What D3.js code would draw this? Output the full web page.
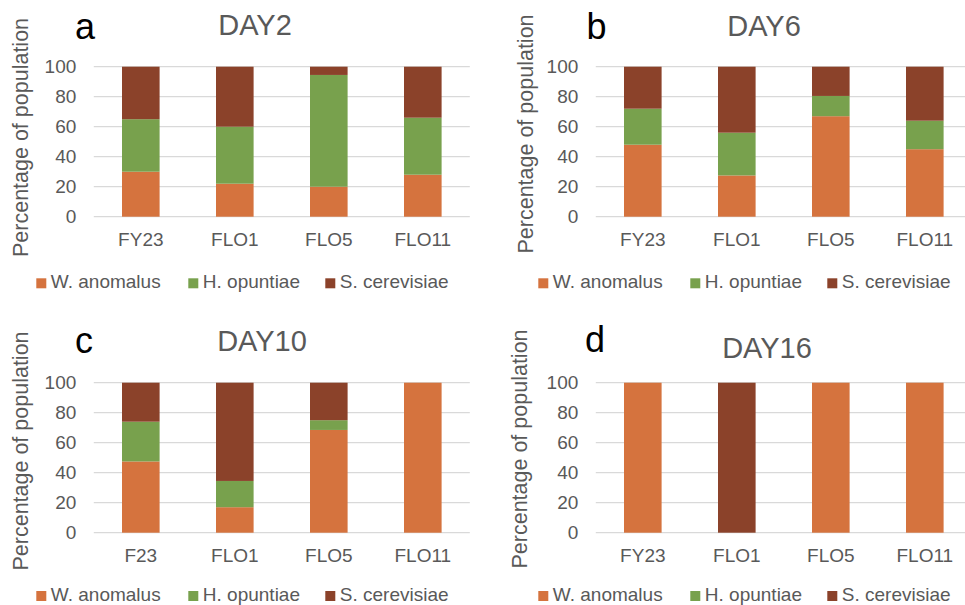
<!DOCTYPE html>
<html>
<head>
<meta charset="utf-8">
<script src="https://cdn.jsdelivr.net/npm/d3@7"></script>
<style>
  html, body { margin: 0; padding: 0; background: #fff; }
  svg { display: block; font-family: "Liberation Sans", Arial, sans-serif; }
</style>
</head>
<body>
<script>
// values (percentage of population)
const strains = ['FY23', 'FLO1', 'FLO5', 'FLO11'];
const strainsDay10 = ['F23', 'FLO1', 'FLO5', 'FLO11'];
const species = ['W. anomalus', 'H. opuntiae', 'S. cerevisiae'];
const yTicks = [0, 20, 40, 60, 80, 100];

const day2W = [30, 22, 20, 28];
const day2H = [35, 38, 74.5, 38];
const day2S = [35, 40, 5.5, 34];

const day6W = [48, 27.5, 67, 45];
const day6H = [24, 28.5, 13.5, 19];
const day6S = [28, 44, 19.5, 36];

const day10W = [47.5, 17, 68.5, 100];
const day10H = [26.5, 17.5, 6.5, 0];
const day10S = [26, 65.5, 25, 0];

const day16W = [100, 0, 100, 100];
const day16H = [0, 0, 0, 0];
const day16S = [0, 100, 0, 0];

const colors = ['#D5733E', '#78A14D', '#8B422A'];
const textGrey = '#595959';

const panels = [
	{ letter: 'a', title: 'DAY2', cats: strains, vals: [day2W, day2H, day2S],
	  left: 93.8, top: 66.7, legY: 288.3, letterX: 75, letterY: 39.3, titleX: 255, titleY: 35, axisX: 27.5, axisY: 137.5 },
	{ letter: 'b', title: 'DAY6', cats: strains, vals: [day6W, day6H, day6S],
	  left: 595.8, top: 66.7, legY: 288.3, letterX: 586.5, letterY: 39.3, titleX: 764, titleY: 36, axisX: 532.5, axisY: 134 },
	{ letter: 'c', title: 'DAY10', cats: strainsDay10, vals: [day10W, day10H, day10S],
	  left: 93.8, top: 382.7, legY: 601, letterX: 75, letterY: 352.7, titleX: 262, titleY: 351, axisX: 27.5, axisY: 451 },
	{ letter: 'd', title: 'DAY16', cats: strains, vals: [day16W, day16H, day16S],
	  left: 595.8, top: 382.7, legY: 601, letterX: 585, letterY: 351.7, titleX: 767, titleY: 358.3, axisX: 527, axisY: 449 }
];

const plotW = 376, plotH = 150;

const svg = d3.select('body').append('svg')
	.attr('width', 965)
	.attr('height', 605);

panels.forEach(function(p) {
	const rows = p.cats.map(function(c, i) {
		const r = { cat: c };
		species.forEach(function(s, k) { r[s] = p.vals[k][i]; });
		return r;
	});

	const x = d3.scaleBand()
		.domain(p.cats)
		.range([p.left, p.left + plotW])
		.paddingInner(0.6)
		.paddingOuter(0.3);

	const y = d3.scaleLinear()
		.domain([0, 100])
		.range([p.top + plotH, p.top]);

	const g = svg.append('g');

	// gridlines
	g.selectAll('line.grid')
		.data(yTicks)
		.enter()
		.append('line')
		.attr('x1', p.left)
		.attr('x2', p.left + plotW)
		.attr('y1', function(d) { return y(d); })
		.attr('y2', function(d) { return y(d); })
		.attr('stroke', '#D9D9D9')
		.attr('stroke-width', 1.3);

	// stacked bars
	const stacked = d3.stack().keys(species)(rows);
	g.selectAll('g.layer')
		.data(stacked)
		.enter()
		.append('g')
		.attr('fill', function(d, i) { return colors[i]; })
		.selectAll('rect')
		.data(function(d) { return d; })
		.enter()
		.append('rect')
		.attr('x', function(d) { return x(d.data.cat); })
		.attr('width', x.bandwidth())
		.attr('y', function(d) { return y(d[1]); })
		.attr('height', function(d) { return y(d[0]) - y(d[1]); });

	// y axis labels
	const yAxis = g.append('g')
		.attr('transform', 'translate(' + (p.left - 17.5) + ',0)')
		.call(d3.axisLeft(y).tickValues(yTicks).tickSize(0).tickPadding(0));
	yAxis.select('.domain').remove();
	yAxis.selectAll('text')
		.attr('fill', textGrey)
		.style('font-size', '19px')
		.style('font-family', '"Liberation Sans", Arial, sans-serif');

	// x axis labels
	const xAxis = g.append('g')
		.attr('transform', 'translate(0,' + (p.top + plotH + 15.5) + ')')
		.call(d3.axisBottom(x).tickSize(0).tickPadding(0));
	xAxis.select('.domain').remove();
	xAxis.selectAll('text')
		.attr('fill', textGrey)
		.style('font-size', '19px')
		.style('font-family', '"Liberation Sans", Arial, sans-serif');

	// axis title
	g.append('text')
		.attr('transform', 'translate(' + p.axisX + ',' + p.axisY + ') rotate(-90)')
		.attr('text-anchor', 'middle')
		.attr('fill', textGrey)
		.style('font-size', '21.5px')
		.text('Percentage of population');

	// panel title and letter
	g.append('text')
		.attr('x', p.titleX)
		.attr('y', p.titleY)
		.attr('text-anchor', 'middle')
		.attr('fill', textGrey)
		.style('font-size', '29px')
		.text(p.title);

	g.append('text')
		.attr('x', p.letterX)
		.attr('y', p.letterY)
		.attr('fill', '#000')
		.style('font-size', '36px')
		.text(p.letter);

	// legend
	const legOffsets = [-57.5, 94.5, 231.5];
	const leg = g.selectAll('g.leg')
		.data(species)
		.enter()
		.append('g')
		.attr('transform', function(d, i) { return 'translate(' + (p.left + legOffsets[i]) + ',' + p.legY + ')'; });
	leg.append('rect')
		.attr('x', 0)
		.attr('y', -10)
		.attr('width', 10)
		.attr('height', 10)
		.attr('fill', function(d, i) { return colors[i]; });
	leg.append('text')
		.attr('x', 14.5)
		.attr('y', 0)
		.attr('fill', textGrey)
		.style('font-size', '19px')
		.text(function(d) { return d; });
});
</script>
</body>
</html>
